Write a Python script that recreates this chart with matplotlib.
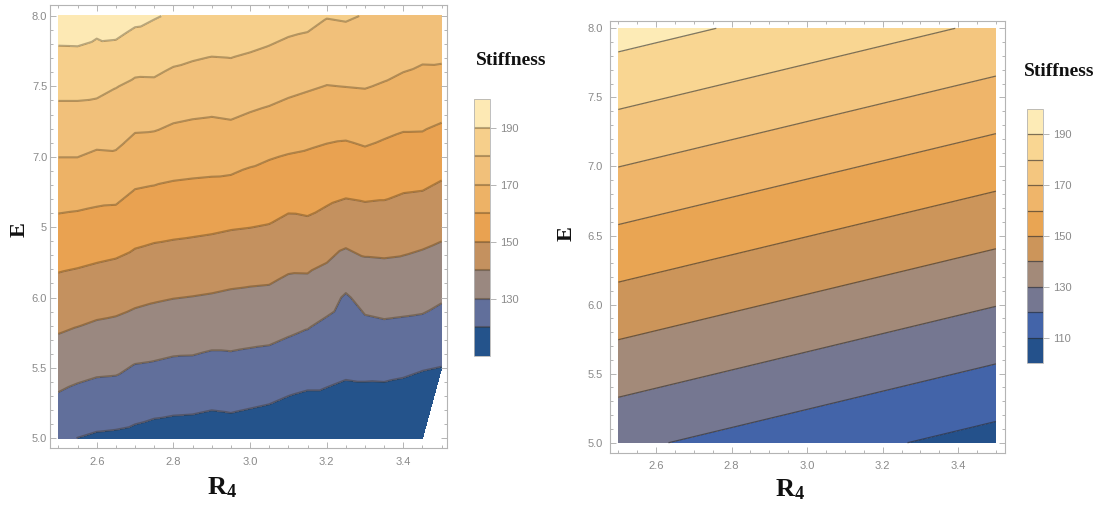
"""Stiffness contour maps over R4 and E: sampled data (left) and fitted surface (right)."""

import matplotlib.pyplot as plt
import numpy as np
from matplotlib.ticker import MultipleLocator
from matplotlib.tri import Triangulation

plt.rcParams["mathtext.fontset"] = "custom"
plt.rcParams["mathtext.rm"] = "Liberation Serif"
plt.rcParams["mathtext.bf"] = "Liberation Serif:bold"

nan = np.nan

# left panel: sampled stiffness, one row per E value, one column per R4 value
r4_left = [2.50, 2.55, 2.60, 2.65, 2.70, 2.75, 2.80, 2.85, 2.90, 2.95, 3.00,
           3.05, 3.10, 3.15, 3.20, 3.25, 3.30, 3.35, 3.40, 3.45, 3.50]
e_left = [5.0, 5.25, 5.5, 5.75, 6.0, 6.25, 6.5, 6.75, 7.0, 7.25, 7.5, 7.75, 8.0]
stiff_left = [
    [121.9, 119.9, 118.8, 118.4, 117.7, 116.6, 116.2, 116.0, 115.3, 115.9, 115.1,
     114.3, 112.9, 112.2, 113.2, 111.5, 111.8, 111.1, 110.4, 110.2, nan],
    [128.1, 126.4, 125.3, 125.0, 123.5, 122.7, 122.1, 121.9, 121.2, 121.6, 120.9,
     120.2, 118.8, 117.9, 117.9, 116.9, 116.9, 116.7, 115.9, 114.5, nan],
    [134.2, 132.8, 131.7, 131.4, 129.3, 128.8, 128.0, 127.9, 127.0, 127.3, 126.7,
     126.2, 124.8, 123.7, 122.6, 121.6, 122.0, 122.2, 121.6, 120.5, 119.8],
    [140.2, 139.0, 137.8, 137.2, 135.6, 134.9, 134.1, 133.8, 133.0, 133.0, 132.5,
     132.1, 130.7, 129.4, 127.4, 125.3, 127.1, 127.8, 127.4, 126.9, 125.3],
    [145.9, 145.0, 143.9, 143.2, 141.9, 140.9, 140.2, 139.8, 139.3, 138.6, 138.2,
     137.9, 136.2, 135.7, 133.1, 129.0, 132.8, 133.5, 133.1, 132.7, 130.9],
    [151.7, 151.0, 150.1, 149.3, 147.7, 146.7, 146.2, 145.7, 145.2, 144.5, 144.0,
     143.7, 141.9, 142.0, 140.1, 136.9, 139.0, 139.3, 138.9, 137.9, 136.6],
    [157.6, 157.1, 156.4, 155.8, 153.6, 152.7, 152.1, 151.7, 151.2, 150.5, 150.1,
     149.5, 147.7, 148.3, 146.4, 144.6, 145.4, 145.4, 144.5, 143.7, 142.3],
    [163.8, 163.4, 162.6, 162.4, 159.5, 158.8, 158.1, 157.7, 157.4, 156.9, 155.8,
     155.0, 153.6, 153.7, 152.4, 151.2, 151.8, 151.4, 150.2, 149.8, 148.0],
    [170.1, 170.1, 168.6, 168.9, 165.8, 165.3, 164.1, 163.7, 163.4, 163.3, 161.8,
     160.5, 159.5, 158.8, 157.8, 157.1, 158.2, 157.0, 155.9, 155.9, 154.1],
    [176.3, 176.3, 175.6, 174.7, 172.0, 171.8, 170.3, 169.6, 169.2, 169.7, 168.4,
     167.3, 165.9, 164.8, 163.7, 163.4, 164.4, 163.0, 161.7, 161.6, 160.2],
    [182.6, 182.6, 182.3, 180.3, 178.3, 178.4, 176.5, 175.7, 175.1, 175.5, 174.4,
     173.4, 172.0, 170.9, 169.8, 170.1, 170.4, 169.3, 167.7, 166.7, 166.2],
    [189.0, 189.1, 188.0, 187.6, 185.1, 184.6, 182.8, 181.7, 180.9, 181.1, 180.2,
     179.1, 177.7, 176.8, 175.1, 175.4, 175.0, 174.4, 173.4, 172.0, 172.1],
    [195.4, 195.6, 193.6, 195.0, 192.3, 190.6, 189.0, 187.7, 186.8, 186.8, 186.0,
     184.8, 183.4, 182.7, 180.4, 180.9, 179.6, 179.2, 178.5, 177.6, 178.1],
]
levels_left = [110, 120, 130, 140, 150, 160, 170, 180, 190, 200]
colors_left = ["#24538b", "#616f9b", "#9a8880", "#c4915f", "#e9a251",
               "#edb266", "#f1c07a", "#f6cf8b", "#fde9b4"]
cbar_ticks_left = [130, 150, 170, 190]
ytick_labels_left = ["5.0", "5.5", "6.0", "5", "7.0", "7.5", "8.0"]

# right panel: fitted stiffness surface
r4_right = [2.5, 3.0, 3.5]
e_right = [5.0, 6.0, 7.0, 8.0]
stiff_right = [
    [122.1, 114.2, 106.3],
    [146.1, 138.2, 130.3],
    [170.1, 162.2, 154.3],
    [194.1, 186.2, 178.3],
]
levels_right = [100, 110, 120, 130, 140, 150, 160, 170, 180, 190, 200]
colors_right = ["#24518b", "#4364a9", "#757791", "#a38a79", "#cc955a",
                "#e9a553", "#efb56a", "#f4c67f", "#f9d692", "#fdebb6"]
cbar_ticks_right = [110, 130, 150, 170, 190]
ytick_labels_right = ["5.0", "5.5", "6.0", "6.5", "7.0", "7.5", "8.0"]

x_ticks = [2.6, 2.8, 3.0, 3.2, 3.4]
y_ticks = [5.0, 5.5, 6.0, 6.5, 7.0, 7.5, 8.0]

FRAME = "#b4b4b4"
TICK_TEXT = "#8a8a8a"
LABEL_FONT = dict(family="Liberation Serif", weight="bold", color="#111111")


def style_frame(ax, xlim, ylim, ylabels, ypad):
    ax.set_xlim(*xlim)
    ax.set_ylim(*ylim)
    ax.set_xticks(x_ticks)
    ax.set_xticklabels([f"{v:.1f}" for v in x_ticks])
    ax.set_yticks(y_ticks)
    ax.set_yticklabels(ylabels)
    ax.xaxis.set_minor_locator(MultipleLocator(0.05))
    ax.yaxis.set_minor_locator(MultipleLocator(0.1))
    ax.tick_params(which="both", direction="in", top=True, right=True,
                   color=FRAME, width=0.7, labelcolor=TICK_TEXT, labelsize=8)
    ax.tick_params(which="major", length=4)
    ax.tick_params(which="minor", length=2)
    ax.tick_params(axis="x", pad=6)
    ax.tick_params(axis="y", pad=ypad)
    for lab in ax.get_xticklabels() + ax.get_yticklabels():
        lab.set_family("Liberation Sans")
    for s in ax.spines.values():
        s.set_color(FRAME)
        s.set_linewidth(0.8)


def style_cbar(cbar, ticks):
    cbar.set_ticks(ticks)
    cbar.ax.tick_params(direction="out", length=4, width=0.7, color=FRAME,
                        labelcolor=TICK_TEXT, labelsize=8, pad=3)
    cbar.ax.minorticks_off()
    for lab in cbar.ax.get_yticklabels():
        lab.set_family("Liberation Sans")
    cbar.outline.set_edgecolor(FRAME)
    cbar.outline.set_linewidth(0.6)


fig = plt.figure(figsize=(11.05, 5.11), dpi=100)
ax1 = fig.add_axes([0.0452, 0.1227, 0.3590, 0.8675])
ax2 = fig.add_axes([0.5520, 0.1141, 0.3575, 0.8454])
cax1 = fig.add_axes([0.4290, 0.3033, 0.0145, 0.5030])
cax2 = fig.add_axes([0.9294, 0.2896, 0.0145, 0.4970])

# left: scattered samples, triangulated so the missing corner stays blank
rr, ee = np.meshgrid(r4_left, e_left)
zz = np.array(stiff_left)
ok = np.isfinite(zz)
tri = Triangulation(rr[ok], ee[ok])
cf1 = ax1.tricontourf(tri, zz[ok], levels=levels_left, colors=colors_left)
cl1 = ax1.tricontour(tri, zz[ok], levels=levels_left[1:-1], colors="#3a2a10",
                     linewidths=1.5, alpha=0.35)
style_frame(ax1, (2.478, 3.513), (4.929, 8.078), ytick_labels_left, 2)

# right: smooth surface
rg, eg = np.meshgrid(r4_right, e_right)
cf2 = ax2.contourf(rg, eg, np.array(stiff_right), levels=levels_right,
                   colors=colors_right)
cl2 = ax2.contour(rg, eg, np.array(stiff_right), levels=levels_right[1:-1],
                  colors="#2a2a2a", linewidths=0.9, alpha=0.6)
style_frame(ax2, (2.478, 3.524), (4.928, 8.055), ytick_labels_right, 5)

cb1 = fig.colorbar(cf1, cax=cax1)
cb1.add_lines(cl1)
style_cbar(cb1, cbar_ticks_left)
cb2 = fig.colorbar(cf2, cax=cax2)
cb2.add_lines(cl2)
style_cbar(cb2, cbar_ticks_right)

# axis titles, placed as in the source figure
fig.text(0.2009, 0.047, r"$\mathbf{R_4}$", fontsize=19, ha="center", va="center",
         color="#111111")
fig.text(0.7149, 0.043, r"$\mathbf{R_4}$", fontsize=19, ha="center", va="center",
         color="#111111")
fig.text(0.0181, 0.550, "E", fontsize=16, rotation=90, ha="center", va="center",
         **LABEL_FONT)
fig.text(0.5131, 0.542, "E", fontsize=16, rotation=90, ha="center", va="center",
         **LABEL_FONT)
fig.text(0.4624, 0.881, "Stiffness", fontsize=14, ha="center", va="center",
         **LABEL_FONT)
fig.text(0.9584, 0.861, "Stiffness", fontsize=14, ha="center", va="center",
         **LABEL_FONT)

fig.savefig("out.png", dpi=100, facecolor="white")
